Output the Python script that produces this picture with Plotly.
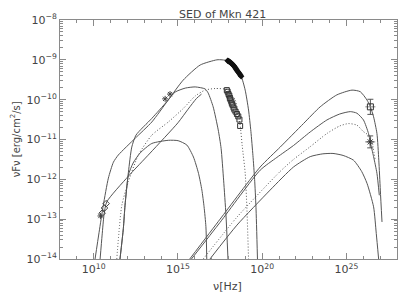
import plotly.graph_objects as go

# ---- data (log10 values) ----
# synchrotron components
synA_lognu = [10.08, 10.32, 10.57, 10.87, 11.17, 11.46, 12.46, 13.45, 14.42, 15.31, 16.32, 17.31, 17.62, 18.0, 18.4, 18.75, 18.99, 19.19, 19.33, 19.45, 19.55, 19.63, 19.72]
synA_logF = [-14.0, -13.33, -12.65, -11.97, -11.57, -11.39, -10.97, -10.56, -10.01, -9.51, -9.13, -9.0, -9.0, -9.03, -9.2, -9.41, -9.76, -10.26, -10.8, -11.4, -12.0, -12.7, -14.0]

synB_lognu = [11.56, 11.76, 11.86, 12.06, 12.26, 12.51, 13.45, 14.34, 14.83, 15.43, 16.02, 16.61, 16.79, 17.09, 17.39, 17.56, 17.71, 17.85, 17.97]
synB_logF = [-14.0, -13.23, -12.65, -11.82, -11.19, -10.89, -10.47, -10.05, -9.81, -9.71, -9.68, -9.73, -9.83, -10.18, -10.76, -11.22, -12.02, -12.9, -14.0]

synD_lognu = [11.37, 11.67, 12.06, 12.65, 13.45, 14.43, 15.32, 16.02, 16.61, 17.21, 17.92, 18.40, 18.69, 18.81, 18.99, 19.09, 19.19]
synD_logF = [-14.0, -12.65, -12.06, -11.39, -10.89, -10.56, -10.22, -9.91, -9.76, -9.72, -9.75, -10.01, -10.64, -11.14, -11.84, -12.70, -14.0]

synC_lognu = [11.56, 11.76, 11.86, 12.06, 12.34, 12.75, 13.45, 14.43, 15.01, 15.53, 15.92, 16.22, 16.42, 16.55, 16.66, 16.71]
synC_logF = [-14.0, -13.23, -12.65, -11.89, -11.59, -11.34, -11.10, -11.02, -11.03, -11.14, -11.44, -11.85, -12.27, -12.69, -13.19, -14.0]

radio_tail_lognu = [10.38, 10.50, 10.61, 10.77, 12.06, 13.35, 15.0, 15.6, 16.1, 16.4]
radio_tail_logF = [-14.0, -13.40, -12.90, -12.57, -11.92, -11.34, -10.58, -10.24, -9.97, -9.86]

# inverse-Compton components
sscA_lognu = [15.7, 17.5, 19.88, 21.07, 22.45, 23.44, 24.43, 25.33, 25.82, 26.22, 26.42, 26.61, 26.81, 26.92, 27.01, 27.11]
sscA_logF = [-14.0, -13.0, -11.69, -11.19, -10.60, -10.18, -9.88, -9.76, -9.80, -10.01, -10.18, -10.43, -10.85, -11.52, -12.27, -13.07]

sscB_lognu = [15.8, 17.5, 19.88, 20.87, 21.86, 22.85, 23.84, 24.6, 25.23, 25.62, 26.01, 26.31, 26.41, 26.61, 26.81, 26.95]
sscB_logF = [-14.0, -13.08, -11.77, -11.45, -11.15, -10.81, -10.51, -10.36, -10.30, -10.34, -10.51, -10.85, -11.06, -11.43, -11.85, -12.4]

sscD_lognu = [16.5, 18.5, 21.07, 21.86, 22.85, 23.84, 24.6, 25.12, 25.62, 26.0, 26.41, 26.7]
sscD_logF = [-14.0, -12.95, -11.8, -11.5, -11.18, -10.85, -10.66, -10.60, -10.64, -10.8, -10.93, -11.5]

sscC_lognu = [16.9, 18.5, 20.47, 21.86, 22.85, 23.6, 24.2, 24.8, 25.42, 25.9, 26.22, 26.61, 26.77, 26.91]
sscC_logF = [-14.0, -13.15, -12.27, -11.69, -11.43, -11.36, -11.35, -11.4, -11.52, -11.8, -12.10, -12.69, -13.36, -14.0]

# observations
xray_lognu = [17.95, 18.0, 18.05, 18.1, 18.15, 18.2, 18.25, 18.3, 18.35, 18.4, 18.45, 18.5, 18.55, 18.6, 18.65, 18.7, 18.75]
xray_logF = [-9.02, -9.03, -9.05, -9.06, -9.08, -9.10, -9.12, -9.14, -9.17, -9.20, -9.23, -9.26, -9.29, -9.32, -9.35, -9.38, -9.41]

xlow_lognu = [17.90, 17.95, 18.0, 18.05, 18.08, 18.12, 18.17, 18.2, 18.25, 18.3, 18.35, 18.42, 18.5, 18.58, 18.65, 18.69]
xlow_logF = [-9.76, -9.80, -9.86, -9.90, -9.96, -10.0, -10.05, -10.10, -10.14, -10.2, -10.25, -10.30, -10.36, -10.42, -10.50, -10.66]

radio_lognu = [10.50, 10.64, 10.74]
radio_logF = [-12.85, -12.72, -12.61]
radio_star_lognu = [10.40]
radio_star_logF = [-12.92]

opt_lognu = [14.24, 14.53]
opt_logF = [-9.98, -9.86]

tev_hi_lognu, tev_hi_logF, tev_hi_err = [26.42], [-10.18], [0.19]
tev_lo_lognu, tev_lo_logF, tev_lo_err = [26.41], [-11.06], [0.15]

x_major = [10, 15, 20, 25]
y_major = [-14, -13, -12, -11, -10, -9, -8]


def p(v):
    return [10.0 ** a for a in v]


LINE = "#555555"
AX = "#8a8a8a"
TXT = "#444444"
fig = go.Figure()


def curve(lx, ly, dash="solid"):
    fig.add_trace(go.Scatter(x=p(lx), y=p(ly), mode="lines",
                             line=dict(color=LINE, width=1, dash=dash, shape="spline", smoothing=0.6),
                             hoverinfo="skip", showlegend=False))


curve(synA_lognu, synA_logF)
curve(synB_lognu, synB_logF)
curve(synD_lognu, synD_logF, "1px,2px")
curve(synC_lognu, synC_logF)
curve(radio_tail_lognu, radio_tail_logF)
curve(sscA_lognu, sscA_logF)
curve(sscB_lognu, sscB_logF)
curve(sscD_lognu, sscD_logF, "1px,2px")
curve(sscC_lognu, sscC_logF)

fig.add_trace(go.Scatter(x=p(xray_lognu), y=p(xray_logF), mode="markers",
                         marker=dict(symbol="diamond", size=5, color="#111"), showlegend=False))
fig.add_trace(go.Scatter(x=p(xlow_lognu), y=p(xlow_logF), mode="markers",
                         marker=dict(symbol="square-open", size=5, color="#333", line=dict(width=1)), showlegend=False))
fig.add_trace(go.Scatter(x=p(radio_lognu), y=p(radio_logF), mode="markers",
                         marker=dict(symbol="diamond-open", size=5, color="#444", line=dict(width=1)), showlegend=False))
fig.add_trace(go.Scatter(x=p(radio_star_lognu), y=p(radio_star_logF), mode="markers",
                         marker=dict(symbol="asterisk-open", size=5, color="#444", line=dict(width=1)), showlegend=False))
fig.add_trace(go.Scatter(x=p(opt_lognu), y=p(opt_logF), mode="markers",
                         marker=dict(symbol="asterisk-open", size=5, color="#444", line=dict(width=1)), showlegend=False))


def tev(lx, ly, le, sym):
    v = 10.0 ** ly[0]
    nu = 10.0 ** lx[0]
    fig.add_trace(go.Scatter(
        x=p(lx), y=p(ly), mode="markers",
        marker=dict(symbol=sym, size=6, color="#333", line=dict(width=1)),
        error_y=dict(type="data", array=[v * (10.0 ** le[0] - 1)], arrayminus=[v * (1 - 10.0 ** -le[0])],
                     color="#555", thickness=1, width=3),
        error_x=dict(type="data", array=[nu * (10.0 ** 0.3 - 1)], arrayminus=[nu * (1 - 10.0 ** -0.3)],
                     color="#888", thickness=1, width=0),
        showlegend=False))


tev(tev_hi_lognu, tev_hi_logF, tev_hi_err, "square-open")
tev(tev_lo_lognu, tev_lo_logF, tev_lo_err, "asterisk-open")

x_minor = [10.0 ** k for k in range(9, 28) if k not in x_major]
y_minor = [m * 10.0 ** k for k in range(-14, -8) for m in range(2, 10)]

FONT = "DejaVu Sans"
fig.update_xaxes(type="log", range=[8, 28], showgrid=False, zeroline=False, automargin=False,
                 showline=True, linecolor=AX, linewidth=1, mirror="ticks",
                 ticks="inside", ticklen=6, tickcolor=AX,
                 tickmode="array", tickvals=[10.0 ** k for k in x_major],
                 ticktext=["10<sup>%d</sup>" % k for k in x_major],
                 tickfont=dict(family=FONT, size=11, color=TXT),
                 minor=dict(tickmode="array", tickvals=x_minor, ticks="inside", ticklen=3, tickcolor=AX))
fig.update_yaxes(type="log", range=[-14, -8], showgrid=False, zeroline=False, automargin=False,
                 showline=True, linecolor=AX, linewidth=1, mirror="ticks",
                 ticks="inside", ticklen=6, tickcolor=AX,
                 tickmode="array", tickvals=[10.0 ** k for k in y_major],
                 ticktext=["10<sup>−%d</sup>" % (-k) for k in y_major],
                 tickfont=dict(family=FONT, size=11, color=TXT),
                 minor=dict(tickmode="array", tickvals=y_minor, ticks="inside", ticklen=3, tickcolor=AX))

fig.add_annotation(text="SED of Mkn 421", xref="paper", yref="paper", x=0.481, y=1.022,
                   xanchor="center", yanchor="middle", showarrow=False,
                   font=dict(family=FONT, size=11, color=TXT))
fig.add_annotation(text="ν[Hz]", xref="paper", yref="paper", x=0.496, y=-0.117,
                   xanchor="center", yanchor="middle", showarrow=False,
                   font=dict(family=FONT, size=11, color=TXT))
fig.add_annotation(text="νFν [erg/cm<sup>2</sup>/s]", xref="paper", yref="paper", x=-0.134, y=0.5,
                   xanchor="center", yanchor="middle", textangle=-90, showarrow=False,
                   font=dict(family=FONT, size=10, color=TXT))

# page body has an 8px margin, so the figure is offset by 8px; compensate in margins/size
fig.update_layout(width=407, height=289, margin=dict(l=52, r=18, t=12, b=38),
                  plot_bgcolor="white", paper_bgcolor="white", showlegend=False)

fig.write_html("out.html")
